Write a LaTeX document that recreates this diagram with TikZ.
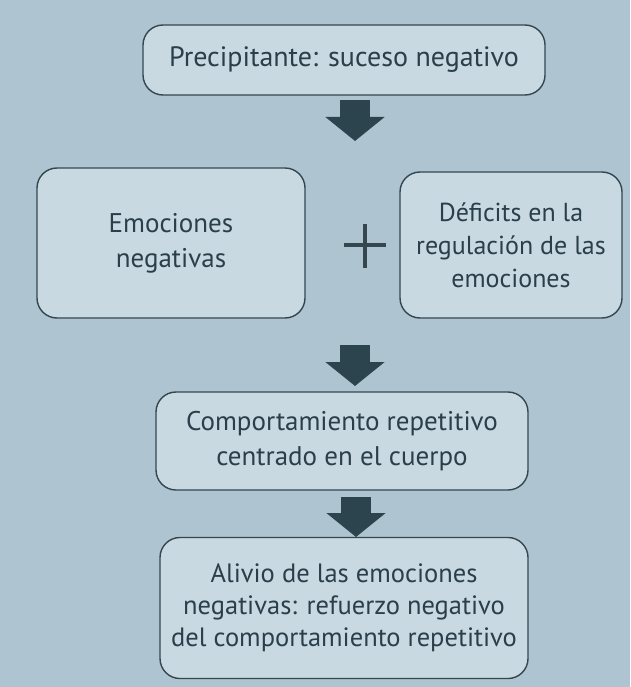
\documentclass[tikz,border=0pt]{standalone}
\usepackage{fontspec}
\setmainfont{PT Sans}
\usetikzlibrary{arrows.meta}
\definecolor{bgc}{HTML}{AEC4D0}
\definecolor{boxc}{HTML}{C8D9E2}
\definecolor{linec}{HTML}{34474F}
\definecolor{txtc}{HTML}{2A3F4A}
\definecolor{arrc}{HTML}{2C444E}
\tikzset{
  box/.style={draw=linec, line width=1.4pt, fill=boxc, rounded corners=20pt,
    text=txtc, align=center, inner sep=0pt,
    font=\fontsize{27}{35}\selectfont},
  bigarrow/.style={draw=arrc, line width=30pt,
    -{Triangle[width=58pt,length=24pt]}},
}
\begin{document}
\begin{tikzpicture}[x=1pt,y=-1pt]
\fill[bgc] (0,0) rectangle (630,687);
\useasboundingbox (0,0) rectangle (630,687);

\node[box, minimum width=402pt, minimum height=70pt, font=\fontsize{28}{35}\selectfont] (top) at (344,60)
  {Precipitante: suceso negativo};
\node[box, minimum width=268pt, minimum height=150pt] (left) at (171,243)
  {Emociones\\negativas};
\node[box, minimum width=222pt, minimum height=146pt, font=\fontsize{26}{33}\selectfont] (right) at (511,245)
  {Déficits en la\\regulación de las\\emociones};
\node[box, minimum width=372pt, minimum height=98pt] (mid) at (342,441)
  {Comportamiento repetitivo\\centrado en el cuerpo};
\node[box, minimum width=368pt, minimum height=141pt, font=\fontsize{26.5}{32}\selectfont] (bot) at (344,608)
  {Alivio de las emociones\\negativas: refuerzo negativo\\del comportamiento repetitivo};

% plus sign
\draw[linec, line width=3.5pt] (344,245) -- (386,245);
\draw[linec, line width=3.5pt] (365,224) -- (365,268);

\coordinate (a1s) at (355,100);
\coordinate (a1e) at (355,141);
\coordinate (a2s) at (355,345);
\coordinate (a2e) at (355,386);
\coordinate (a3s) at (356,497);
\coordinate (a3e) at (356,537);
\draw[bigarrow] (a1s) -- (a1e);
\draw[bigarrow] (a2s) -- (a2e);
\draw[bigarrow] (a3s) -- (a3e);
\end{tikzpicture}
\end{document}
